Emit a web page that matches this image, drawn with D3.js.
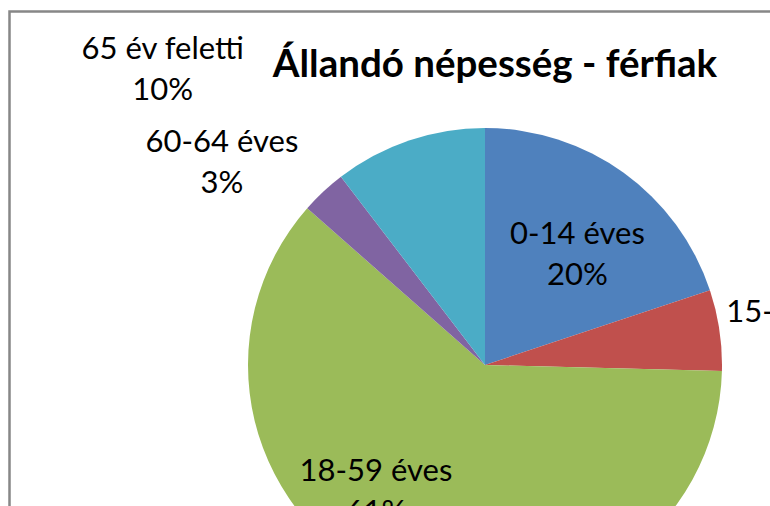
<!DOCTYPE html>
<meta charset="utf-8">
<style>
  body { margin: 0; background: #fff; }
  svg text { font-family: Lato, "Open Sans", sans-serif; fill: #000; }
</style>
<script src="https://d3js.org/d3.v7.min.js"></script>
<div id="chart"></div>
<script>
// slices, clockwise from 12 o'clock
var categories = ["0-14 éves", "15-17 éves", "18-59 éves", "60-64 éves", "65 év feletti"];
var shares = [19.9, 5.5, 61.1, 3.1, 10.4];
var percentLabels = ["20%", "5%", "61%", "3%", "10%"];
var colors = ["#4F81BD", "#C0504D", "#9BBB59", "#8064A2", "#4BACC6"];
var title = "Állandó népesség - férfiak";

var width = 770, height = 506;
var cx = 485, cy = 365, radius = 237;

// where Excel put each label (relative to centre, in radius units)
var labelAt = [
  [0.39, -0.51],
  [1.34, -0.18],
  [-0.46, 0.49],
  [-1.11, -0.90],
  [-1.36, -1.29]
];

var svg = d3.select("#chart")
  .append("svg")
    .attr("width", width)
    .attr("height", height);

// chart area border (runs off the right and bottom of the picture)
svg.append("rect")
  .attr("x", 9.5)
  .attr("y", 11.5)
  .attr("width", 900)
  .attr("height", 700)
  .attr("fill", "none")
  .attr("stroke", "#878787")
  .attr("stroke-width", 2.5);

var data = categories.map(function(c, i) {
  return {name: c, value: shares[i], pct: percentLabels[i], color: colors[i]};
});

var pie = d3.pie()
  .sort(null)
  .value(function(d) { return d.value; });

var arc = d3.arc()
  .innerRadius(0)
  .outerRadius(radius);

var g = svg.append("g")
  .attr("transform", "translate(" + cx + "," + cy + ")");

g.selectAll("path")
  .data(pie(data))
  .enter()
  .append("path")
    .attr("d", arc)
    .attr("fill", function(d) { return d.data.color; });

// labels: category on first line, percent under it
var labels = g.selectAll(".lbl")
  .data(data)
  .enter()
  .append("text")
    .attr("class", "lbl")
    .attr("text-anchor", "middle")
    .style("font-size", "31px")
    .attr("transform", function(d, i) {
      return "translate(" + labelAt[i][0] * radius + "," + labelAt[i][1] * radius + ")";
    });
labels.append("tspan")
  .attr("x", 0)
  .text(function(d) { return d.name; });
labels.append("tspan")
  .attr("x", 0)
  .attr("dy", 41)
  .text(function(d) { return d.pct; });

svg.append("text")
  .attr("x", 495)
  .attr("y", 77)
  .attr("text-anchor", "middle")
  .style("font-size", "38.5px")
  .style("font-weight", "bold")
  .text(title);
</script>
